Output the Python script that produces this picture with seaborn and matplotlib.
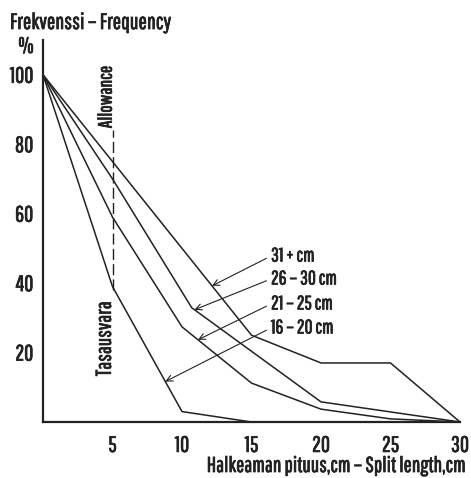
import matplotlib
matplotlib.use("Agg")
import matplotlib.pyplot as plt
import matplotlib.patheffects as pe
import numpy as np
import pandas as pd
import seaborn as sns

# curves: split length (cm) -> cumulative frequency (%)
groups = ['16 – 20 cm', '21 – 25 cm', '26 – 30 cm', '31 + cm']
len_16_20 = [0, 5, 10, 15, 30]
freq_16_20 = [100, 39, 3, 0, 0]
len_21_25 = [0, 5, 10, 15, 20, 25, 30]
freq_21_25 = [100, 59, 27.4, 11.2, 3.7, 0.9, 0]
len_26_30 = [0, 5, 10.7, 20, 30]
freq_26_30 = [100, 70, 32.9, 5.8, 0]
len_31 = [0, 15, 20, 25, 30]
freq_31 = [100, 25, 17, 17, 0]

x_ticks = [5, 10, 15, 20, 25, 30]
y_major = [20, 40, 60, 80, 100]
y_minor = [10, 30, 50, 70, 90]

allowance_x = 5
allowance_span = [38, 84]

# where each arrow hits its curve (x), and where its label sits (y)
arrow_x = [8.8, 11.15, 10.9, 12.16]
label_y = [27.1, 34.0, 41.2, 47.8]
label_x = 16.4

all_len = [len_16_20, len_21_25, len_26_30, len_31]
all_freq = [freq_16_20, freq_21_25, freq_26_30, freq_31]
df = pd.concat([pd.DataFrame({'length': l, 'freq': f, 'group': g})
                for l, f, g in zip(all_len, all_freq, groups)])

ink = '#222222'
bold = [pe.withStroke(linewidth=0.55, foreground=ink)]  # thicken the thin gothic face
sns.set_style("white")
plt.rcParams['font.family'] = ['Pathway Gothic One', 'DejaVu Sans']

fig = plt.figure(figsize=(4.71, 4.78), dpi=100)
ax = fig.add_axes([43 / 471, 56 / 478, 417 / 471, 382 / 478])

sns.lineplot(data=df, x='length', y='freq', hue='group', units='group',
             estimator=None, sort=False, palette=[ink] * 4,
             linewidth=1.1, legend=False, ax=ax)

ax.plot([allowance_x, allowance_x], allowance_span, color=ink,
        lw=1.0, ls=(0, (8, 3)))
texts = []
texts.append(ax.text(4.55, 93.7, 'Allowance', rotation=90, ha='center',
                     va='center', fontsize=14, color=ink))
texts.append(ax.text(4.45, 24.0, 'Tasausvara', rotation=90, ha='center',
                     va='center', fontsize=15.5, color=ink))

for g, l, f, hx, ly in zip(groups, all_len, all_freq, arrow_x, label_y):
    hy = np.interp(hx, l, f)
    texts.append(ax.annotate(g, xy=(hx, hy), xytext=(label_x, ly), ha='left',
                             va='center', fontsize=14, color=ink,
                             arrowprops=dict(arrowstyle='->', color=ink, lw=0.8,
                                             shrinkA=1, shrinkB=0,
                                             mutation_scale=11,
                                             relpos=(0, 0.5))))

ax.set_xlim(0, 30)
ax.set_ylim(0, 110)
ax.set_xticks(x_ticks)
ax.set_xticklabels([str(v) for v in x_ticks])
ax.set_yticks(y_major)
ax.set_yticklabels([str(v) for v in y_major])
ax.set_yticks(y_minor, minor=True)
ax.tick_params(axis='x', direction='out', length=7, width=1.2, pad=3,
               labelsize=16, colors=ink)
ax.tick_params(axis='y', which='both', direction='out', length=6, width=1.2,
               pad=1, labelsize=16, colors=ink)
ax.set_xlabel('')
ax.set_ylabel('')
for s in ['top', 'right']:
    ax.spines[s].set_visible(False)
for s in ['left', 'bottom']:
    ax.spines[s].set_linewidth(1.6)
    ax.spines[s].set_color(ink)

texts.append(fig.text(10 / 471, 1 - 29 / 478, 'Frekvenssi – Frequency',
                      ha='left', va='baseline', fontsize=16, color=ink))
texts.append(fig.text(26 / 471, 1 - 47 / 478, '%', ha='center', va='center',
                      fontsize=16, color=ink))
texts.append(fig.text(466 / 471, 1 - 472 / 478,
                      'Halkeaman pituus,cm – Split length,cm',
                      ha='right', va='baseline', fontsize=15.5, color=ink))

for t in texts + ax.get_xticklabels() + ax.get_yticklabels():
    t.set_path_effects(bold)

fig.savefig('out.png', dpi=100)
